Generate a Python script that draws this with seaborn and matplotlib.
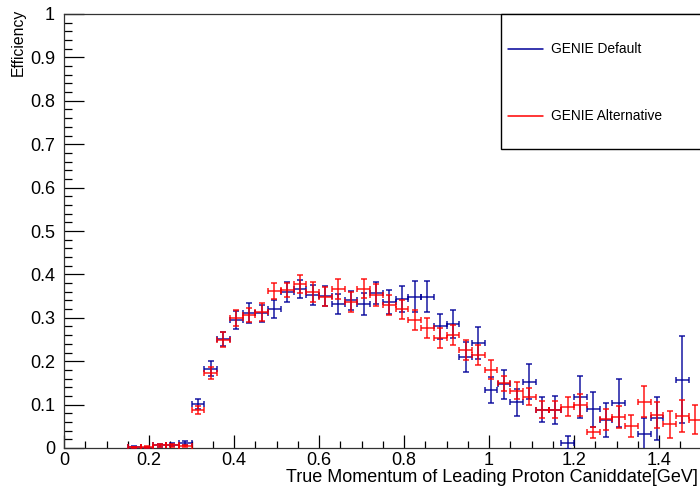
import numpy as np
import pandas as pd
import matplotlib
matplotlib.use("Agg")
import matplotlib.pyplot as plt
import seaborn as sns
from matplotlib.patches import Rectangle
from matplotlib.lines import Line2D
from matplotlib.ticker import MultipleLocator

# Bin centres of the true leading-proton momentum [GeV] (bin width 0.03 GeV)
bin_centers = [0.165, 0.195, 0.225, 0.255, 0.285, 0.315, 0.345, 0.375, 0.405, 0.435,
               0.465, 0.495, 0.525, 0.555, 0.585, 0.615, 0.645, 0.675, 0.705, 0.735,
               0.765, 0.795, 0.825, 0.855, 0.885, 0.915, 0.945, 0.975, 1.005, 1.035,
               1.065, 1.095, 1.125, 1.155, 1.185, 1.215, 1.245, 1.275, 1.305, 1.335,
               1.365, 1.395, 1.425, 1.455, 1.485]
bin_half_width = 0.015

# GENIE default tune
eff_default = [0.003, 0.001, 0.006, 0.008, 0.011, 0.101, 0.183, 0.252, 0.295, 0.310,
               0.310, 0.320, 0.360, 0.366, 0.352, 0.350, 0.331, 0.340, 0.331, 0.357,
               0.336, 0.343, 0.349, 0.349, 0.280, 0.286, 0.209, 0.241, 0.134, 0.147,
               0.105, 0.153, 0.088, 0.088, 0.012, 0.118, 0.089, 0.065, 0.103, np.nan,
               0.032, 0.068, np.nan, 0.157, np.nan]
err_default = [0.002, 0.001, 0.003, 0.004, 0.005, 0.012, 0.018, 0.016, 0.021, 0.023,
               0.020, 0.021, 0.023, 0.021, 0.023, 0.023, 0.023, 0.021, 0.025, 0.025,
               0.028, 0.030, 0.035, 0.035, 0.028, 0.032, 0.035, 0.037, 0.030, 0.033,
               0.032, 0.040, 0.029, 0.032, 0.015, 0.048, 0.040, 0.039, 0.055, np.nan,
               0.038, 0.050, np.nan, 0.100, np.nan]

# GENIE alternative tune
eff_alt = [0.002, 0.002, 0.006, 0.006, 0.005, 0.087, 0.173, 0.250, 0.299, 0.306,
           0.314, 0.362, 0.364, 0.377, 0.360, 0.349, 0.366, 0.337, 0.367, 0.352,
           0.329, 0.320, 0.295, 0.277, 0.254, 0.260, 0.226, 0.215, 0.180, 0.149,
           0.132, 0.118, 0.088, 0.088, 0.095, 0.099, 0.036, 0.066, 0.072, 0.051,
           0.107, 0.076, 0.055, 0.074, 0.065]
err_alt = [0.001, 0.002, 0.003, 0.003, 0.003, 0.009, 0.014, 0.018, 0.018, 0.016,
           0.021, 0.018, 0.016, 0.021, 0.023, 0.022, 0.023, 0.023, 0.022, 0.025,
           0.023, 0.022, 0.023, 0.023, 0.023, 0.023, 0.024, 0.023, 0.022, 0.018,
           0.019, 0.020, 0.020, 0.020, 0.022, 0.025, 0.012, 0.025, 0.025, 0.026,
           0.036, 0.031, 0.031, 0.036, 0.033]

series_labels = ["GENIE Default", "GENIE Alternative"]
series_colors = ["#000099", "#ff0000"]

x_ticks = [0, 0.2, 0.4, 0.6, 0.8, 1.0, 1.2, 1.4]
x_tick_labels = ["0", "0.2", "0.4", "0.6", "0.8", "1", "1.2", "1.4"]
y_ticks = [0, 0.1, 0.2, 0.3, 0.4, 0.5, 0.6, 0.7, 0.8, 0.9, 1.0]
y_tick_labels = ["0", "0.1", "0.2", "0.3", "0.4", "0.5", "0.6", "0.7", "0.8", "0.9", "1"]

df = pd.DataFrame({
    "p": bin_centers * 2,
    "eff": eff_default + eff_alt,
    "err": err_default + err_alt,
    "tune": [series_labels[0]] * len(bin_centers) + [series_labels[1]] * len(bin_centers),
})

sns.set_theme(style="ticks")
plt.rcParams["font.family"] = ["Liberation Sans", "DejaVu Sans"]

W, H = 700, 487
fig = plt.figure(figsize=(W / 100, H / 100), dpi=100)
x_max = 1.52
ax_w = x_max * 425 / W
ax = fig.add_axes([64 / W, 39 / H, ax_w, 434 / H])
ax.set_facecolor("white")

palette = dict(zip(series_labels, series_colors))
for tune, sub in df.groupby("tune", sort=False):
    sub = sub.dropna()
    ax.errorbar(sub["p"], sub["eff"], yerr=sub["err"], xerr=bin_half_width,
                fmt="none", ecolor=palette[tune], elinewidth=1.1, capsize=2.2,
                capthick=1.1, alpha=0.9, zorder=3)

ax.set_xlim(0, x_max)
ax.set_ylim(0, 1)
ax.set_xticks(x_ticks)
ax.set_xticklabels(x_tick_labels)
ax.set_yticks(y_ticks)
ax.set_yticklabels(y_tick_labels)
ax.xaxis.set_minor_locator(MultipleLocator(0.05))
ax.yaxis.set_minor_locator(MultipleLocator(0.02))
ax.tick_params(axis="both", which="both", direction="in", colors="black",
               labelsize=13, width=0.9, top=False, right=False)
ax.tick_params(axis="x", which="major", length=9.5, pad=3)
ax.tick_params(axis="x", which="minor", length=5)
ax.tick_params(axis="y", which="major", length=14.5, pad=6.5)
ax.tick_params(axis="y", which="minor", length=6)
for side in ["left", "bottom", "top", "right"]:
    ax.spines[side].set_visible(True)
    ax.spines[side].set_color("#333333")
    ax.spines[side].set_linewidth(0.9)

ax.set_xlabel("")
ax.set_ylabel("")
fig.text(18 / W, 1 - 9 / H, "Efficiency", rotation=90, ha="center", va="top",
         fontsize=11.3, color="black")
fig.text(698 / W, 1 - 478 / H, "True Momentum of Leading Proton Caniddate[GeV]",
         ha="right", va="center", fontsize=13, color="black")

# Legend box in the upper right corner
box = Rectangle((501 / W, 1 - 149 / H), 0.4, 135 / H, transform=fig.transFigure,
                facecolor="white", edgecolor="black", linewidth=1.0, zorder=5)
fig.add_artist(box)
for label, color, ypix in zip(series_labels, series_colors, [49, 116]):
    fig.add_artist(Line2D([508 / W, 543 / W], [1 - ypix / H, 1 - ypix / H],
                          transform=fig.transFigure, color=color, linewidth=1.1,
                          zorder=6))
    fig.text(551 / W, 1 - ypix / H, label, ha="left", va="center",
             fontsize=9.9, color="black", zorder=6)

fig.savefig("out.png", dpi=100)
